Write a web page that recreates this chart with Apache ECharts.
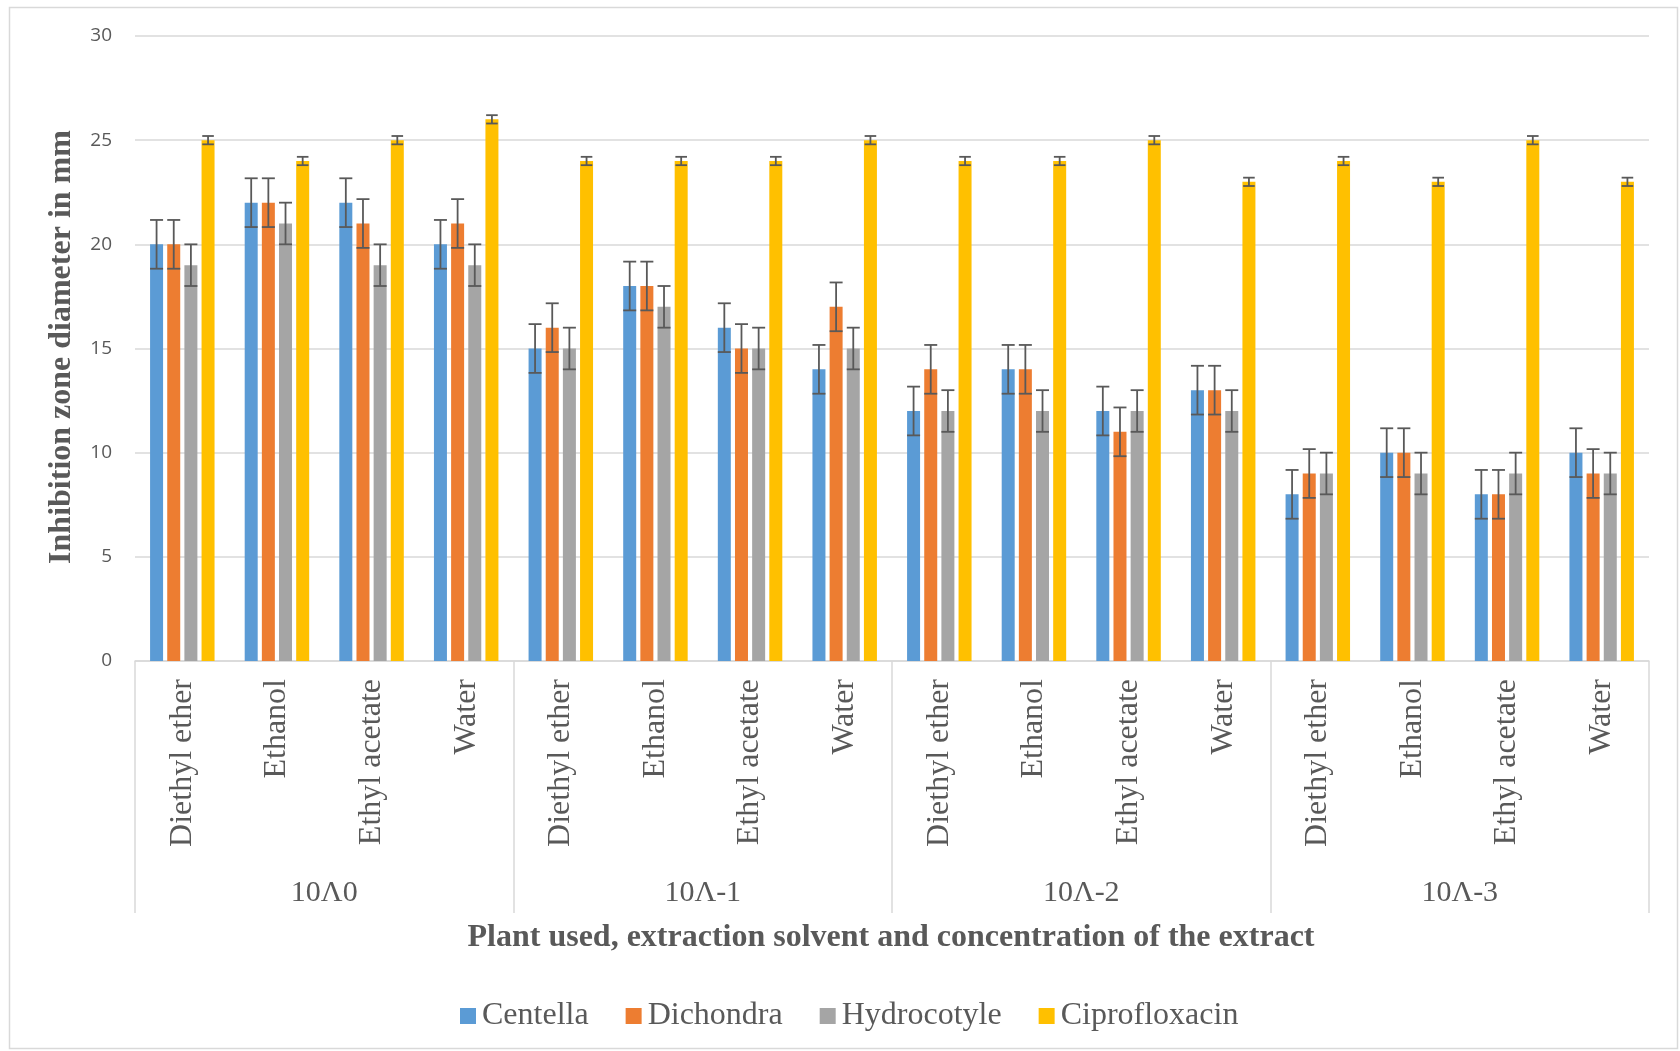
<!DOCTYPE html>
<html>
<head>
<meta charset="utf-8">
<script src="https://cdn.jsdelivr.net/npm/echarts@6/dist/echarts.min.js"></script>
<style>html,body{margin:0;padding:0;background:#fff}#c{width:1680px;height:1051px}</style>
</head>
<body>
<div id="c"></div>
<script>
// ---- data ----
const groups = ['10Λ0', '10Λ-1', '10Λ-2', '10Λ-3'];
const solvents = ['Diethyl ether', 'Ethanol', 'Ethyl acetate', 'Water',
                  'Diethyl ether', 'Ethanol', 'Ethyl acetate', 'Water',
                  'Diethyl ether', 'Ethanol', 'Ethyl acetate', 'Water',
                  'Diethyl ether', 'Ethanol', 'Ethyl acetate', 'Water'];
const seriesNames = ['Centella', 'Dichondra', 'Hydrocotyle', 'Ciprofloxacin'];
const centella      = [20, 22, 22, 20, 15, 18, 16, 14, 12, 14, 12, 13, 8, 10, 8, 10];
const dichondra     = [20, 22, 21, 21, 16, 18, 15, 17, 14, 14, 11, 13, 9, 10, 8, 9];
const hydrocotyle   = [19, 21, 19, 19, 15, 17, 15, 15, 12, 12, 12, 12, 9, 9, 9, 9];
const ciprofloxacin = [25, 24, 25, 26, 24, 24, 24, 25, 24, 24, 25, 23, 24, 23, 25, 23];
const errors = [1.17, 1.17, 1.0, 0.2];
const yTicks = { min: 0, max: 30, interval: 5 };

// ---- style ----
const colors = ['#5B9BD5', '#ED7D31', '#A5A5A5', '#FFC000'];
const serif = '"Liberation Serif", "Times New Roman", serif';
const sans = '"Open Sans", "Noto Sans", sans-serif';
const textColor = '#595959';
const gridColor = '#d9d9d9';
const barW = 13;
const gapRatio = 0.32;
const pitch = barW * (1 + gapRatio);

const values = [centella, dichondra, hydrocotyle, ciprofloxacin];

const barSeries = values.map((arr, s) => ({
  name: seriesNames[s],
  type: 'bar',
  data: arr,
  barWidth: barW,
  barGap: (gapRatio * 100) + '%',
  itemStyle: { color: colors[s] },
  z: 2
}));

const errSeries = values.map((arr, s) => ({
  name: 'err' + s,
  type: 'custom',
  data: arr.map((v, i) => [i, v, errors[s]]),
  z: 5,
  silent: true,
  renderItem: function (params, api) {
    const c = api.value(0), v = api.value(1), e = api.value(2);
    const top = api.coord([c, v + e]);
    const bot = api.coord([c, v - e]);
    const x = top[0] + (s - 1.5) * pitch;
    const hw = s === 3 ? 5.8 : 6.5;
    const st = { stroke: '#595959', lineWidth: 1.8 };
    return {
      type: 'group',
      children: [
        { type: 'line', shape: { x1: x, y1: top[1], x2: x, y2: bot[1] }, style: st },
        { type: 'line', shape: { x1: x - hw, y1: top[1], x2: x + hw, y2: top[1] }, style: st },
        { type: 'line', shape: { x1: x - hw, y1: bot[1], x2: x + hw, y2: bot[1] }, style: st }
      ]
    };
  }
}));

const chart = echarts.init(document.getElementById('c'), null, { renderer: 'canvas' });
chart.setOption({
  backgroundColor: '#ffffff',
  animation: false,
  grid: { left: 135, top: 36, width: 1514, height: 625 },
  legend: {
    data: seriesNames,
    left: 455,
    top: 995,
    itemWidth: 16,
    itemHeight: 16,
    itemGap: 37,
    icon: 'rect',
    textStyle: { fontFamily: serif, fontSize: 32, color: textColor, padding: [0, 0, 0, 1] }
  },
  xAxis: [
    {
      type: 'category',
      data: solvents,
      axisLine: { lineStyle: { color: gridColor, width: 1.5 } },
      axisTick: { show: false },
      axisLabel: {
        interval: 0, rotate: 90, margin: 18,
        fontFamily: serif, fontSize: 32, color: textColor
      }
    },
    {
      type: 'category',
      data: groups,
      position: 'bottom',
      axisLine: { show: false },
      axisTick: { show: true, length: 252, interval: 0, lineStyle: { color: gridColor, width: 1.5 } },
      axisLabel: { interval: 0, margin: 217, fontFamily: serif, fontSize: 30, color: textColor }
    }
  ],
  yAxis: {
    type: 'value',
    min: yTicks.min, max: yTicks.max, interval: yTicks.interval,
    axisLine: { show: false },
    axisTick: { show: false },
    axisLabel: { margin: 23, fontFamily: sans, fontSize: 19, color: textColor },
    splitLine: { lineStyle: { color: gridColor, width: 1.5 } }
  },
  graphic: [
    {
      type: 'rect', silent: true, z: -1,
      shape: { x: 9.5, y: 7.5, width: 1668, height: 1041 },
      style: { fill: 'none', stroke: gridColor, lineWidth: 1.5 }
    },
    {
      type: 'text', x: 62, y: 347, rotation: Math.PI / 2,
      style: {
        text: 'Inhibition zone diameter in mm',
        font: 'bold 32px ' + serif, fill: textColor,
        textAlign: 'center', textVerticalAlign: 'middle'
      }
    },
    {
      type: 'text', x: 891, y: 938,
      style: {
        text: 'Plant used, extraction solvent and concentration of the extract',
        font: 'bold 32px ' + serif, fill: textColor,
        textAlign: 'center', textVerticalAlign: 'middle'
      }
    }
  ],
  series: barSeries.concat(errSeries)
});
</script>
</body>
</html>
